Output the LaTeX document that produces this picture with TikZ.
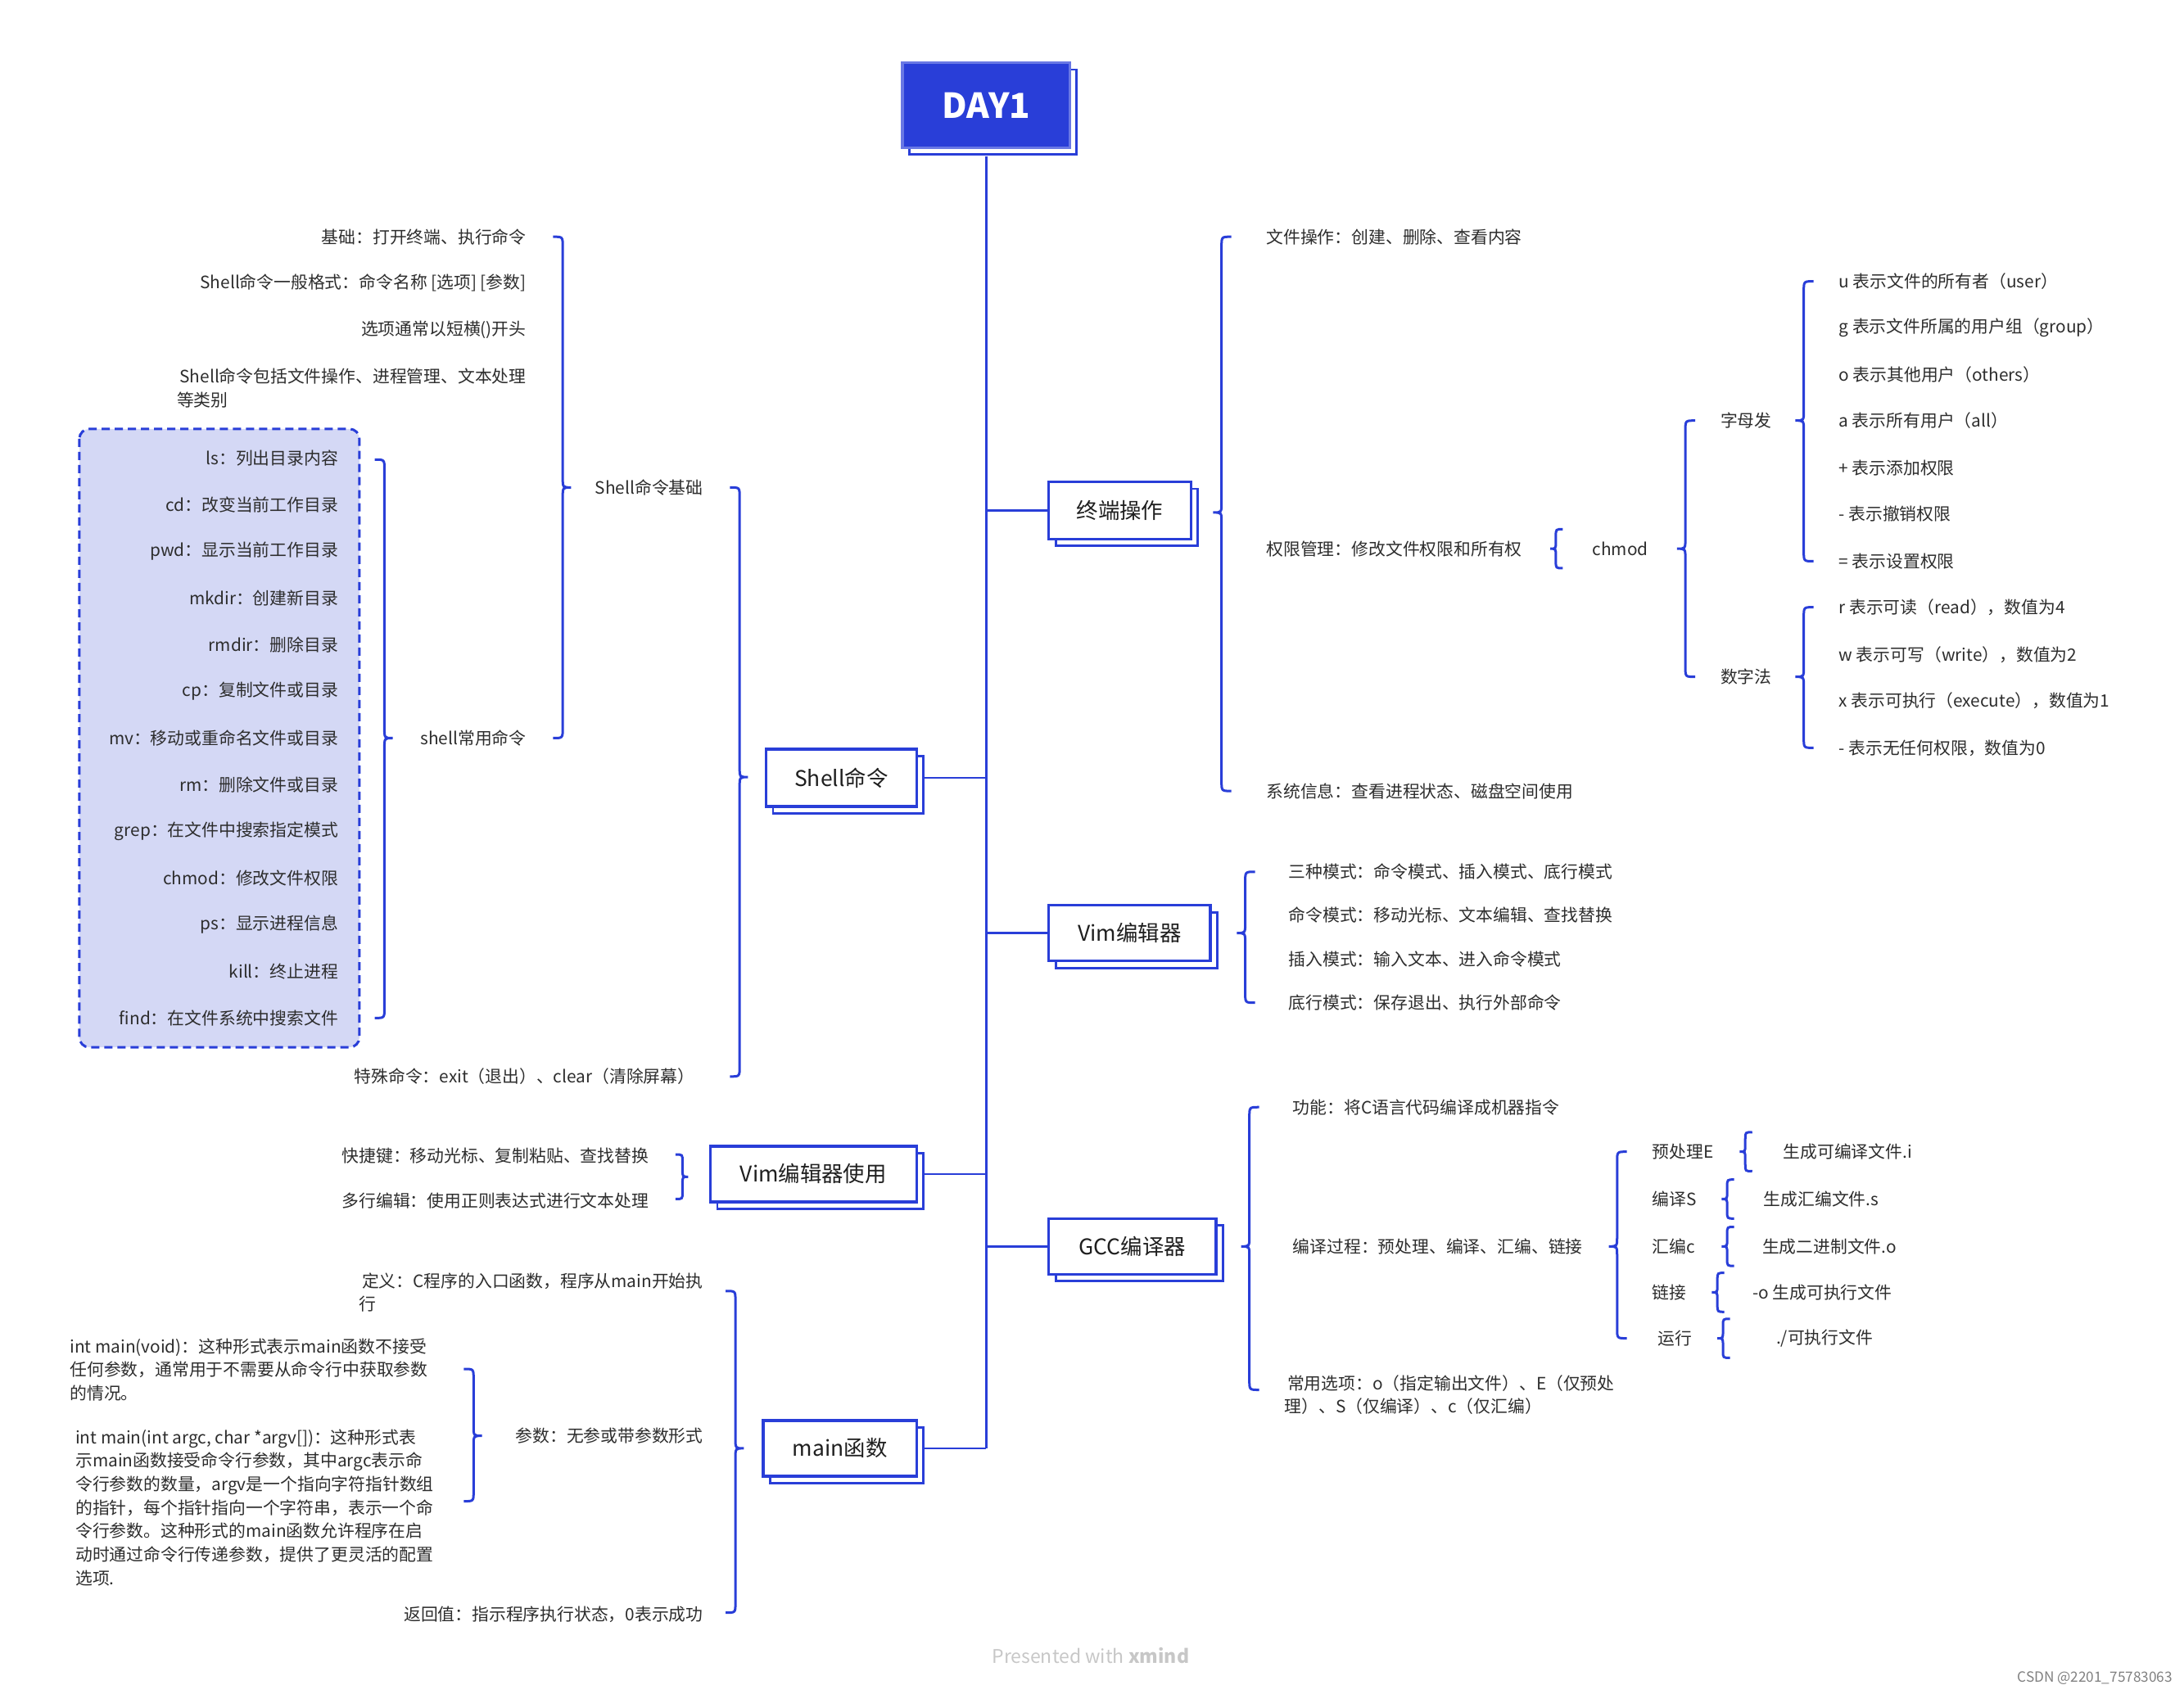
\documentclass[tikz,border=0pt]{standalone}
\usepackage{fontspec}
\setmainfont{Noto Sans CJK SC}
\usetikzlibrary{shadows}
\definecolor{mblue}{RGB}{41,62,216}
\definecolor{lav}{RGB}{212,216,245}
\definecolor{txt}{RGB}{45,45,45}
% brace with tip to the left: [r]{x}{ytop}{ymid}{ybot}
\newcommand\BrL[5][7]{\draw[brc] ({#2+#1},{#3}) .. controls ({#2},{#3}) .. ({#2},{#3+#1}) -- ({#2},{#4-#1}) .. controls ({#2},{#4}) .. ({#2-#1+1},{#4}) .. controls ({#2},{#4}) .. ({#2},{#4+#1}) -- ({#2},{#5-#1}) .. controls ({#2},{#5}) .. ({#2+#1},{#5});}
% brace with tip to the right
\newcommand\BrR[5][7]{\draw[brc] ({#2-#1},{#3}) .. controls ({#2},{#3}) .. ({#2},{#3+#1}) -- ({#2},{#4-#1}) .. controls ({#2},{#4}) .. ({#2+#1-1},{#4}) .. controls ({#2},{#4}) .. ({#2},{#4+#1}) -- ({#2},{#5-#1}) .. controls ({#2},{#5}) .. ({#2-#1},{#5});}
\begin{document}
\begin{tikzpicture}[x=0.85pt,y=-0.85pt,
  conn/.style={draw=mblue,line width=1.35pt},
  brc/.style={draw=mblue,line width=1.5pt},
  itemL/.style={anchor=west,inner sep=0pt,text=txt,font=\fontsize{10.4}{14.3}\selectfont,align=left},
  itemR/.style={anchor=east,inner sep=0pt,text=txt,font=\fontsize{10.4}{14.3}\selectfont,align=right},
  bsz/.style 2 args={minimum width={#1*0.85pt},minimum height={#2*0.85pt}},
  box/.style={draw=mblue,line width=1.7pt,fill=white,text=black!88,inner sep=0pt,
     font=\fontsize{13.2}{15}\selectfont,
     copy shadow={shadow xshift=4.25pt,shadow yshift=-4.25pt,draw=mblue,fill=white,line width=1.4pt}},
  dashbox/.style={draw=mblue,fill=lav,line width=1.5pt,dash pattern=on 5pt off 3pt,rounded corners=6pt},
]
\useasboundingbox (0,0) rectangle (1568,1216);

% ---------- main boxes ----------
\node[box,fill=mblue,draw=mblue!70!white,text=white,bsz={120}{61},font=\fontsize{21}{24}\selectfont\bfseries] (day1) at (708,75.5) {DAY1};
\node[box,bsz={102}{41}] (term) at (804,366.5) {终端操作};
\node[box,bsz={108}{41}] (shell) at (604,558.5) {Shell命令};
\node[box,bsz={116}{40}] (vim) at (811,670) {Vim编辑器};
\node[box,bsz={148}{40}] (vimuse) at (584,843) {Vim编辑器使用};
\node[box,bsz={120}{40}] (gcc) at (813,895) {GCC编译器};
\node[box,bsz={110}{40}] (mainf) at (603,1040) {main函数};

% ---------- trunk and branches ----------
\draw[conn] ([yshift=-4.25pt]day1.south) -- (day1.south |- mainf.east);
\draw[conn] (term.west) -- (term.west -| day1.south);
\draw[conn] (vim.west) -- (vim.west -| day1.south);
\draw[conn] (gcc.west) -- (gcc.west -| day1.south);
\draw[conn] ([xshift=4.25pt]shell.east) -- (shell.east -| day1.south);
\draw[conn] ([xshift=4.25pt]vimuse.east) -- (vimuse.east -| day1.south);
\draw[conn] ([xshift=4.25pt]mainf.east) -- (mainf.east -| day1.south);

% ---------- 终端操作 ----------
\BrL{877}{170}{368}{568}
\node[itemL] (f1) at (909,170) {文件操作：创建、删除、查看内容};
\node[itemL] (f2) at (909,394) {权限管理：修改文件权限和所有权};
\node[itemL] (f3) at (909,568) {系统信息：查看进程状态、磁盘空间使用};
\BrL[5]{1117}{380}{394}{408}
\node[itemL] (chmod) at (1143,394) {chmod};
\BrL{1210}{302}{394}{486}
\node[itemL] (zm) at (1235,302) {字母发};
\node[itemL] (sz) at (1235,486) {数字法};
\BrL{1295}{202}{302}{403}
\node[itemL] (u1) at (1320,202) {u 表示文件的所有者（user）};
\node[itemL] (u2) at (1320,235) {g 表示文件所属的用户组（group）};
\node[itemL] (u3) at (1320,269) {o 表示其他用户（others）};
\node[itemL] (u4) at (1320,302) {a 表示所有用户（all）};
\node[itemL] (u5) at (1320,336) {+ 表示添加权限};
\node[itemL] (u6) at (1320,369) {- 表示撤销权限};
\node[itemL] (u7) at (1320,403) {= 表示设置权限};
\BrL{1295}{436}{486}{537}
\node[itemL] (n1) at (1320,436) {r 表示可读（read），数值为4};
\node[itemL] (n2) at (1320,470) {w 表示可写（write），数值为2};
\node[itemL] (n3) at (1320,503) {x 表示可执行（execute），数值为1};
\node[itemL] (n4) at (1320,537) {- 表示无任何权限，数值为0};

% ---------- Shell命令 ----------
\BrR{531}{350}{558}{773}
\node[itemR] (sb) at (505,350) {Shell命令基础};
\node[itemR] (sp) at (499,773) {特殊命令：exit（退出）、clear（清除屏幕）};
\BrR{404}{170}{350}{530}
\node[itemR] (b1) at (378,170) {基础：打开终端、执行命令};
\node[itemR] (b2) at (378,203) {Shell命令一般格式：命令名称 [选项] [参数]};
\node[itemR] (b3) at (378,237) {选项通常以短横()开头};
\node[itemR,align=left] (b4) at (378,278.5) {\,Shell命令包括文件操作、进程管理、文本处理\\等类别};
\node[itemR] (b5) at (378,530) {shell常用命令};
\draw[dashbox] (57,308) rectangle (258,752);
\BrR{276}{330}{530}{731}
\foreach \t [count=\i] in {ls：列出目录内容,cd：改变当前工作目录,pwd：显示当前工作目录,mkdir：创建新目录,rmdir：删除目录,cp：复制文件或目录,mv：移动或重命名文件或目录,rm：删除文件或目录,grep：在文件中搜索指定模式,chmod：修改文件权限,ps：显示进程信息,kill：终止进程,find：在文件系统中搜索文件}
  \node[itemR] (c\i) at (243,{329+33.5*(\i-1)}) {\t};

% ---------- Vim编辑器 ----------
\BrL{894}{626}{670}{720}
\node[itemL] (v1) at (925,626) {三种模式：命令模式、插入模式、底行模式};
\node[itemL] (v2) at (925,657) {命令模式：移动光标、文本编辑、查找替换};
\node[itemL] (v3) at (925,689) {插入模式：输入文本、进入命令模式};
\node[itemL] (v4) at (925,720) {底行模式：保存退出、执行外部命令};

% ---------- Vim编辑器使用 ----------
\BrR[5]{490}{829}{845}{861}
\node[itemR] (w1) at (466,830) {快捷键：移动光标、复制粘贴、查找替换};
\node[itemR] (w2) at (466,862) {多行编辑：使用正则表达式进行文本处理};

% ---------- GCC编译器 ----------
\BrL{897}{795}{895}{998}
\node[itemL] (g1) at (928,795) {功能：将C语言代码编译成机器指令};
\node[itemL] (g2) at (928,895) {编译过程：预处理、编译、汇编、链接};
\node[itemL] (g3) at (922,1001.5) {\,常用选项：o（指定输出文件）、E（仅预处\\理）、S（仅编译）、c（仅汇编）};
\BrL{1161}{827}{895}{961}
\node[itemL] (p1) at (1186,827) {预处理E};
\node[itemL] (p2) at (1186,861) {编译S};
\node[itemL] (p3) at (1186,895) {汇编c};
\node[itemL] (p4) at (1186,928) {链接};
\node[itemL] (p5) at (1190,961) {运行};
\BrL[5]{1253}{813}{827}{841}
\BrL[5]{1240}{847}{861}{875}
\BrL[5]{1240}{881}{895}{909}
\BrL[5]{1233}{914}{928}{942}
\BrL[5]{1237}{947}{961}{975}
\node[itemL] (q1) at (1280,827) {生成可编译文件.i};
\node[itemL] (q2) at (1266,861) {生成汇编文件.s};
\node[itemL] (q3) at (1265,895) {生成二进制文件.o};
\node[itemL] (q4) at (1258,928) {-o 生成可执行文件};
\node[itemL] (q5) at (1275,961) {./可执行文件};

% ---------- main函数 ----------
\BrR{528}{927}{1040}{1158}
\node[itemR,align=left] (m1) at (505,928) {\,定义：C程序的入口函数，程序从main开始执\\行};
\node[itemR] (m2) at (505,1031) {参数：无参或带参数形式};
\node[itemR] (m3) at (505,1159) {返回值：指示程序执行状态，0表示成功};
\BrR{340}{983}{1031}{1078}
\node[itemL] (a1) at (50,983.5) {int main(void)：这种形式表示main函数不接受\\任何参数，通常用于不需要从命令行中获取参数\\的情况。};
\node[itemL] (a2) at (54,1082.5) {int main(int argc, char *argv[])：这种形式表\\示main函数接受命令行参数，其中argc表示命\\令行参数的数量，argv是一个指向字符指针数组\\的指针，每个指针指向一个字符串，表示一个命\\令行参数。这种形式的main函数允许程序在启\\动时通过命令行传递参数，提供了更灵活的配置\\选项.};

% ---------- footer ----------
\node[inner sep=0pt,text=black!22,font=\fontsize{11.5}{13}\selectfont] (pw) at (783,1189) {Presented with \textbf{xmind}};
\node[anchor=east,inner sep=0pt,text=black!50,font=\fontsize{8.6}{10}\selectfont] (csdn) at (1560,1205) {CSDN @2201\_75783063};
\end{tikzpicture}
\end{document}
